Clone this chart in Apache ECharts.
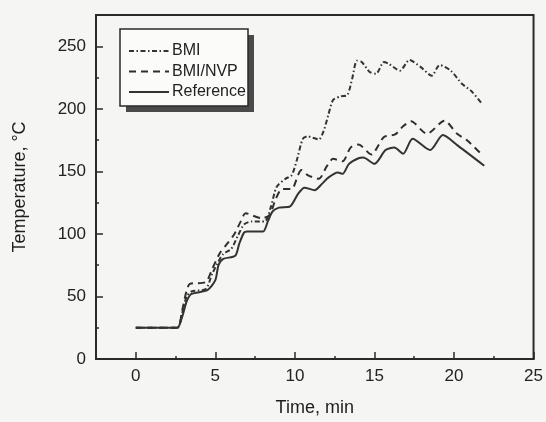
<!DOCTYPE html>
<html>
<head>
<meta charset="utf-8">
<script src="https://cdn.jsdelivr.net/npm/echarts@6/dist/echarts.min.js"></script>
<style>
html,body{margin:0;padding:0;background:#f5f5f3;}
#chart{width:546px;height:422px;}
</style>
</head>
<body>
<div id="chart"></div>
<script>
// Data (time in min, temperature in °C)
var bmiTime = [0, 2.6, 2.9, 3.2, 3.5, 4.4, 4.8, 5.2, 5.5, 6.0, 6.4, 6.8, 7.3, 8.1, 8.5, 8.85, 9.4, 9.8, 10.1, 10.5, 10.8, 11.5, 11.8, 12.1, 12.4, 12.9, 13.3, 13.6, 13.9, 14.2, 14.7, 15.1, 15.6, 15.9, 16.6, 17.2, 17.9, 18.6, 19.1, 19.8, 20.5, 21.1, 21.7];
var bmiTemp = [25, 25, 36, 50, 54, 56, 68, 78, 84, 88, 98, 107.5, 110, 110, 122, 137.5, 144, 147, 158, 176, 178, 175.5, 182, 195, 207, 210, 211, 224, 238.5, 237.5, 229.5, 228, 237.5, 236, 230.5, 239, 233.5, 226.5, 235, 230.5, 220, 214, 205];

var nvpTime = [0, 2.6, 2.9, 3.2, 3.4, 4.4, 4.8, 5.3, 5.8, 6.2, 6.6, 6.9, 7.9, 8.4, 8.8, 9.2, 9.8, 10.2, 10.4, 10.8, 11.5, 12.0, 12.4, 13.0, 13.5, 14.0, 14.8, 15.6, 16.3, 16.8, 17.3, 18.3, 19.4, 20.2, 20.8, 21.7];
var nvpTemp = [25, 25, 38, 55, 60, 61.5, 72, 85, 93, 100, 110, 116.5, 112.5, 115, 128, 136, 136, 147, 151, 147, 144, 154, 160, 158, 169, 171.5, 163.5, 177.5, 179.5, 186, 190, 180, 190.5, 180, 175, 164];

var refTime = [0, 2.6, 2.9, 3.2, 3.5, 4.5, 5.0, 5.2, 5.5, 6.25, 6.5, 6.8, 7.0, 8.0, 8.3, 8.6, 9.0, 9.7, 10.2, 10.6, 11.25, 11.7, 12.1, 12.7, 13.0, 13.4, 14.0, 14.3, 15.0, 15.7, 16.25, 16.8, 17.4, 18.5, 19.3, 20.2, 21.9];
var refTemp = [25, 25, 33, 46, 52, 55, 63, 75, 80, 82.5, 92, 101, 102, 102, 110, 118, 121, 122, 132, 137, 135, 140, 145, 149, 148, 156, 160.5, 161, 156, 167, 169, 164, 176, 167, 179, 171, 154.5];

var xMajorTicks = [0, 5, 10, 15, 20, 25];
var xMinorTicks = [2.5, 7.5, 12.5, 17.5, 22.5];
var yMajorTicks = [0, 50, 100, 150, 200, 250];
var yMinorTicks = [25, 75, 125, 175, 225];

function pairs(xs, ys){ return xs.map(function(x,i){ return [x, ys[i]]; }); }

var ink = '#2a2a2a';
var font = 'Liberation Sans, Arial, sans-serif';

var chart = echarts.init(document.getElementById('chart'), null, {renderer:'canvas'});
var baseX = {
  type:'value', min:-2.5, max:25, gridIndex:0
};
chart.setOption({
  backgroundColor:'#f5f5f3',
  animation:false,
  grid:{left:96, right:11, top:15, bottom:58, show:true, borderColor:ink, borderWidth:2, backgroundColor:'transparent'},
  graphic:[
    {type:'rect', z:10, shape:{x:126, y:35, width:128, height:77}, style:{fill:'#4a4a4a'}},
    {type:'rect', z:11, shape:{x:120, y:29, width:128, height:77}, style:{fill:'#fbfbfa', stroke:ink, lineWidth:1.5}}
  ],
  legend:{
    z:20,
    orient:'vertical', left:121, top:33,
    padding:[10,4,10,7], itemGap:4.5, itemWidth:40, itemHeight:14,
    itemStyle:{opacity:0},
    textStyle:{fontFamily:font, fontSize:16, color:'#222', padding:[0,0,0,-2]},
    data:['BMI','BMI/NVP','Reference']
  },
  xAxis:[
    Object.assign({}, baseX, {
      name:'Time, min', nameLocation:'middle', nameGap:40,
      nameTextStyle:{fontFamily:font, fontSize:18, color:'#1e1e1e'},
      axisLine:{show:true, onZero:false, lineStyle:{color:ink, width:2}},
      axisTick:{show:true, inside:true, length:7, customValues:xMajorTicks, lineStyle:{color:ink, width:1.5}},
      axisLabel:{show:true, customValues:xMajorTicks, margin:9, fontFamily:font, fontSize:17, color:'#222'},
      splitLine:{show:false}
    }),
    Object.assign({}, baseX, {
      position:'bottom',
      axisLine:{show:false, onZero:false},
      axisTick:{show:true, inside:true, length:3, customValues:xMinorTicks, lineStyle:{color:ink, width:1.5}},
      axisLabel:{show:false},
      splitLine:{show:false}
    })
  ],
  yAxis:[
    {
      type:'value', min:0, max:275,
      name:'Temperature, \u00B0C', nameLocation:'middle', nameGap:67, nameRotate:90,
      nameTextStyle:{fontFamily:font, fontSize:18, color:'#1e1e1e'},
      axisLine:{show:true, onZero:false, lineStyle:{color:ink, width:2}},
      axisTick:{show:true, inside:true, length:7, customValues:yMajorTicks, lineStyle:{color:ink, width:1.5}},
      axisLabel:{show:true, customValues:yMajorTicks, margin:10, fontFamily:font, fontSize:17, color:'#222'},
      splitLine:{show:false}
    },
    {
      type:'value', min:0, max:275, position:'left',
      axisLine:{show:false, onZero:false},
      axisTick:{show:true, inside:true, length:3, customValues:yMinorTicks, lineStyle:{color:ink, width:1.5}},
      axisLabel:{show:false},
      splitLine:{show:false}
    }
  ],
  series:[
    {name:'BMI', type:'line', xAxisIndex:0, yAxisIndex:0, symbol:'none', smooth:0.25,
     data:pairs(bmiTime, bmiTemp),
     lineStyle:{color:'#333', width:2, type:[5,2.5,1.5,2.5]}, itemStyle:{color:'#333'}},
    {name:'BMI/NVP', type:'line', xAxisIndex:0, yAxisIndex:0, symbol:'none', smooth:0.25,
     data:pairs(nvpTime, nvpTemp),
     lineStyle:{color:'#2e2e2e', width:2, type:[7,5]}, itemStyle:{color:'#2e2e2e'}},
    {name:'Reference', type:'line', xAxisIndex:0, yAxisIndex:0, symbol:'none', smooth:0.25,
     data:pairs(refTime, refTemp),
     lineStyle:{color:'#333', width:2, type:'solid'}, itemStyle:{color:'#333'}}
  ]
});
</script>
</body>
</html>
